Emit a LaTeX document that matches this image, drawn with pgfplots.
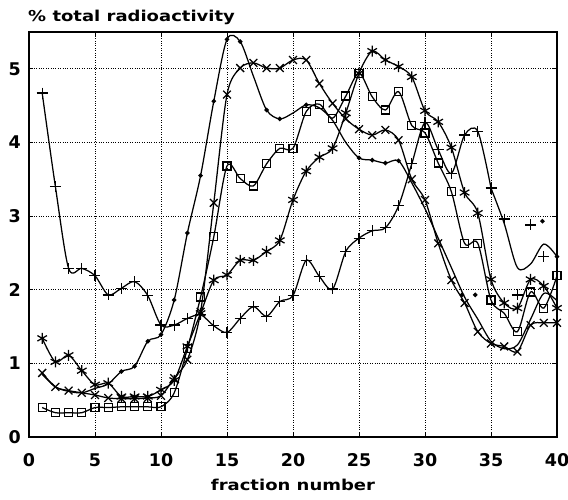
\documentclass[border=0pt]{standalone}
\usepackage{pgfplots}
\pgfplotsset{compat=1.18}
\usepackage{fontspec}
\newfontfamily\lblfont{DejaVu Sans}[FakeStretch=1.2]
\newfontfamily\tickfont{DejaVu Sans}
\begin{document}
\begin{tikzpicture}
\useasboundingbox (-29pt,-63pt) rectangle (539pt,437pt);
\begin{axis}[
  at={(0,0)}, anchor=south west,
  scale only axis, width=528pt, height=405pt,
  xmin=0, xmax=40, ymin=0, ymax=5.5,
  xtick={0,5,...,40}, ytick={0,1,...,5},
  grid=major, major grid style={black, dotted, line width=0.8pt},
  axis line style={line width=1.5pt},
  tick style={black, line width=0.8pt}, tick align=inside, major tick length=4pt,
  /pgf/number format/assume math mode=true,
  ticklabel style={font=\tickfont\bfseries\fontsize{17.5}{18}\selectfont},
  xticklabel style={anchor=base, yshift=-30pt, inner sep=0pt},
  yticklabel style={anchor=east, inner sep=0pt, xshift=-8pt},
  clip=false,
  every axis plot/.append style={black, line width=1.25pt, mark options={solid}},
]
% plus series
\addplot[smooth, mark=+, mark size=5.5pt] coordinates {
(1,4.67)(2,3.40)(3,2.29)(4,2.29)(5,2.19)(6,1.93)(7,2.02)(8,2.11)(9,1.92)(10,1.52)
(11,1.52)(12,1.61)(13,1.66)(14,1.51)(15,1.42)(16,1.61)(17,1.77)(18,1.64)(19,1.84)(20,1.92)
(21,2.40)(22,2.18)(23,2.01)(24,2.52)(25,2.70)(26,2.80)(27,2.84)(28,3.14)(29,3.71)(30,4.27)
(31,3.90)(32,3.58)(33,4.10)(34,4.15)(35,3.38)};
\addplot[smooth, no marks] coordinates {
(35,3.38)(36,2.90)(37,2.30)(38,2.35)(39,2.62)(40,2.45)};
\addplot[only marks, mark=+, mark size=5.5pt] coordinates {
(36,2.96)(37,1.93)(38,2.88)(39,2.45)};
% dot series
\addplot[smooth, no marks] coordinates {
(1,0.85)(2,0.68)(3,0.62)(4,0.60)(5,0.66)(6,0.72)(7,0.89)(8,0.96)(9,1.30)(10,1.39)
(11,1.86)(12,2.77)(13,3.55)(14,4.56)(15,5.40)(16,5.37)(17,4.90)(18,4.44)(19,4.32)(20,4.40)
(21,4.51)(22,4.47)(23,4.30)(24,4.00)(25,3.79)(26,3.76)(27,3.72)(28,3.75)(29,3.45)(30,3.10)
(31,2.70)(32,2.30)(33,1.90)(34,1.60)(35,1.30)(36,1.20)(37,1.25)(38,1.60)(39,1.95)(40,1.85)};
\addplot[only marks, mark=*, mark size=1.6pt] coordinates {
(7,0.89)(8,0.96)(9,1.30)(10,1.39)(11,1.86)(12,2.77)(13,3.55)(14,4.56)(15,5.40)(16,5.37)
(18,4.44)(19,4.32)(21,4.51)(25,3.79)(26,3.76)(27,3.72)(28,3.75)
(32.8,1.93)(33.8,1.93)(38.9,2.93)(40,2.45)};
% cross series
\addplot[smooth, mark=x, mark size=5.5pt] coordinates {
(1,0.87)(2,0.68)(3,0.63)(4,0.60)(5,0.57)(6,0.53)(7,0.52)(8,0.52)(9,0.53)(10,0.56)
(11,0.80)(12,1.05)(13,1.70)(14,3.18)(15,4.65)(16,5.01)(17,5.08)(18,5.01)(19,5.01)(20,5.12)
(21,5.12)(22,4.80)(23,4.53)(24,4.32)(25,4.18)(26,4.10)(27,4.17)(28,4.03)(29,3.50)(30,3.22)
(31,2.63)(32,2.13)(33,1.82)(34,1.43)(35,1.27)(36,1.23)(37,1.16)(38,1.52)(39,1.55)(40,1.55)};
% asterisk series
\addplot[smooth, mark=asterisk, mark size=5.5pt] coordinates {
(1,1.34)(2,1.02)(3,1.11)(4,0.90)(5,0.71)(6,0.73)(7,0.55)(8,0.55)(9,0.55)(10,0.64)
(11,0.77)(12,1.23)(13,1.68)(14,2.13)(15,2.20)(16,2.40)(17,2.40)(18,2.52)(19,2.67)(20,3.22)
(21,3.61)(22,3.80)(23,3.92)(24,4.40)(25,4.94)(26,5.24)(27,5.12)(28,5.03)(29,4.89)(30,4.43)
(31,4.28)(32,3.93)(33,3.32)(34,3.04)(35,2.14)(36,1.82)(37,1.75)(38,2.14)(39,2.05)(40,1.75)};
% square series
\addplot[smooth, mark=square, mark size=4pt] coordinates {
(1,0.40)(2,0.33)(3,0.33)(4,0.33)(5,0.40)(6,0.40)(7,0.41)(8,0.41)(9,0.41)(10,0.41)
(11,0.60)(12,1.20)(13,1.90)(14,2.72)(15,3.68)(16,3.51)(17,3.41)(18,3.71)(19,3.92)(20,3.92)
(21,4.42)(22,4.52)(23,4.33)(24,4.63)(25,4.94)(26,4.62)(27,4.44)(28,4.69)(29,4.23)(30,4.13)
(31,3.72)(32,3.33)(33,2.63)(34,2.63)(35,1.86)(36,1.68)(37,1.43)(38,1.97)(39,1.75)(40,2.19)};
\end{axis}
\node[anchor=base west, inner sep=0pt, font=\lblfont\bfseries\fontsize{15}{15}\selectfont] at (-1pt,415pt) {\% total radioactivity};
\node[anchor=base, inner sep=0pt, font=\lblfont\bfseries\fontsize{15}{15}\selectfont] at (264pt,-54pt) {fraction number};
\end{tikzpicture}
\end{document}
